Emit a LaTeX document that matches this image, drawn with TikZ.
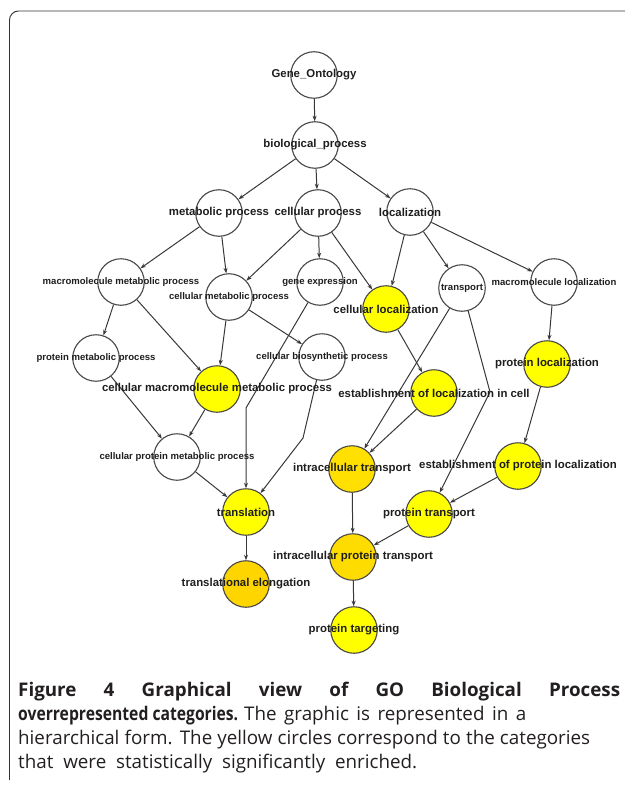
\documentclass[tikz,border=0pt]{standalone}
\usepackage{fontspec}
\setmainfont{Liberation Sans}
\newfontfamily\capfont{Open Sans}
\usetikzlibrary{arrows.meta}
\pgfdeclarelayer{background}
\pgfsetlayers{background,main}
\definecolor{goyel}{HTML}{FFFF00}
\definecolor{gooa}{HTML}{FFE000}
\definecolor{goob}{HTML}{FFDC00}
\definecolor{gooc}{HTML}{FFD500}
\definecolor{txt}{HTML}{1E1E1E}
\definecolor{capt}{HTML}{231F20}
\begin{document}
\begin{tikzpicture}[x=1bp,y=-1bp,
  gonode/.style={circle, draw=black!72, line width=1.1bp, minimum size=46.5bp, inner sep=0pt, fill=white},
  hit/.style={gonode, fill=goyel},
  big/.style={font=\bfseries\fontsize{11.4bp}{12bp}\selectfont, text=txt, inner sep=0pt},
  small/.style={font=\bfseries\fontsize{9.55bp}{11bp}\selectfont, text=txt, inner sep=0pt},
  edge/.style={draw=black!78, line width=1bp, -{Stealth[length=5.5bp,width=4bp]}},
  capline/.style={font=\capfont\fontsize{18.8bp}{20bp}\selectfont, text=capt, inner sep=0pt, anchor=base west},
  frame/.style={draw=black!80, line width=0.9bp, rounded corners=9bp}
]
\useasboundingbox (0,0) rectangle (625,785);
\draw[frame] (9.5,780) -- (9.5,11) -- (640,11);

% nodes
\node[gonode, label={[big]center:Gene\_Ontology}] (go) at (314,75) {};
\node[gonode, label={[big]center:biological\_process}] (bp) at (315,145) {};
\node[gonode, label={[big]center:metabolic process}] (mp) at (219,213) {};
\node[gonode, label={[big]center:cellular process}] (cp) at (318,213) {};
\node[gonode, label={[big]center:localization}] (loc) at (410,212) {};
\node[gonode, label={[small]center:macromolecule metabolic process}] (mmp) at (121,282) {};
\node[gonode, label={[small]center:cellular metabolic process}] (cmp) at (229,297) {};
\node[gonode, label={[small]center:gene expression}] (ge) at (320,282) {};
\node[hit, label={[big]center:cellular localization}] (cl) at (386,309) {};
\node[gonode, label={[small]center:transport}] (tr) at (462,288) {};
\node[gonode, label={[small]center:macromolecule localization}] (ml) at (554,282) {};
\node[gonode, label={[small]center:protein metabolic process}] (pmp) at (96,358) {};
\node[gonode, label={[small]center:cellular biosynthetic process}] (cbp) at (322,357) {};
\node[hit, label={[big]center:cellular macromolecule metabolic process}] (cmmp) at (217,389) {};
\node[hit, label={[big]center:protein localization}] (pl) at (547,364) {};
\node[hit, label={[big]center:establishment of localization in cell}] (elc) at (434,393) {};
\node[gonode, label={[small]center:cellular protein metabolic process}] (cpmp) at (177,457) {};
\node[hit, fill=gooa, label={[big]center:intracellular transport}] (it) at (352,469) {};
\node[hit, label={[big]center:establishment of protein localization}] (epl) at (518,466) {};
\node[hit, label={[big]center:translation}] (trl) at (246,512) {};
\node[hit, label={[big]center:protein transport}] (pt) at (429,514) {};
\node[hit, fill=goob, label={[big]center:intracellular protein transport}] (ipt) at (353,557) {};
\node[hit, fill=gooc, label={[big]center:translational elongation}] (te) at (246,584) {};
\node[hit, label={[big]center:protein targeting}] (ptg) at (354,630) {};

\coordinate (bendA) at (246,408);
\coordinate (bendB) at (303,438);
\coordinate (bendC) at (490,392);

\begin{pgfonlayer}{background}
\draw[edge] (go) -- (bp);
\draw[edge] (bp) -- (mp);
\draw[edge] (bp) -- (cp);
\draw[edge] (bp) -- (loc);
\draw[edge] (mp) -- (mmp);
\draw[edge] (mp) -- (cmp);
\draw[edge] (cp) -- (cmp);
\draw[edge] (cp) -- (ge);
\draw[edge] (cp) -- (cl);
\draw[edge] (loc) -- (cl);
\draw[edge] (loc) -- (tr);
\draw[edge] (loc) -- (ml);
\draw[edge] (mmp) -- (pmp);
\draw[edge] (mmp) -- (cmmp);
\draw[edge] (cmp) -- (cmmp);
\draw[edge] (cmp) -- (cbp);
\draw[edge] (ge) -- (bendA) -- (trl);
\draw[edge] (cbp) -- (bendB) -- (trl);
\draw[edge] (pmp) -- (cpmp);
\draw[edge] (cmmp) -- (cpmp);
\draw[edge] (cpmp) -- (trl);
\draw[edge] (trl) -- (te);
\draw[edge] (cl) -- (elc);
\draw[edge] (tr) -- (it);
\draw[edge] (elc) -- (it);
\draw[edge] (tr) -- (bendC) -- (pt);
\draw[edge] (ml) -- (pl);
\draw[edge] (pl) -- (epl);
\draw[edge] (epl) -- (pt);
\draw[edge] (it) -- (ipt);
\draw[edge] (pt) -- (ipt);
\draw[edge] (ipt) -- (ptg);
\end{pgfonlayer}

% caption
\node[capline] (cap1) at (18,696) {\makebox[602bp][s]{\bfseries Figure 4 Graphical view of GO Biological Process}};
\node[capline] (cap2a) at (18,720) {\resizebox{220bp}{\height}{\bfseries overrepresented categories.}};
\node[capline] (cap2b) at (244,720) {\makebox[282bp][s]{The graphic is represented in a}};
\node[capline] (cap3) at (18,744) {\makebox[572bp][s]{hierarchical form. The yellow circles correspond to the categories}};
\node[capline] (cap4) at (18,768) {\makebox[399bp][s]{that were statistically significantly enriched.}};
\end{tikzpicture}
\end{document}
